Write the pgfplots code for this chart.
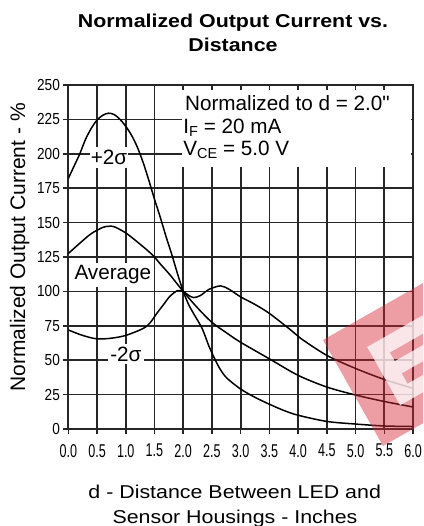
\documentclass[border=0pt]{standalone}
\usepackage{fontspec}
\setmainfont{Liberation Sans}
\newfontfamily\plainsans{Liberation Sans}[Ligatures=TeXOff]
\usepackage{pgfplots}
\pgfplotsset{compat=1.18}
\definecolor{wm}{RGB}{215,40,55}
\begin{document}
\begin{tikzpicture}[x=1pt,y=1pt]
\useasboundingbox (0pt,0pt) rectangle (423pt,526pt);
\begin{axis}[
  at={(68.3pt,97pt)}, anchor=south west,
  scale only axis, width=344.7pt, height=344pt,
  xmin=0, xmax=6, ymin=0, ymax=250,
  xtick={0,0.5,1,1.5,2,2.5,3,3.5,4,4.5,5,5.5,6},
  xticklabels={0.0,0.5,1.0,1.5,2.0,2.5,3.0,3.5,4.0,4.5,5.0,5.5,6.0},
  ytick={0,25,50,75,100,125,150,175,200,225,250},
  yticklabels={0,25,50,75,100,125,150,175,200,225,250},
  grid=major,
  grid style={line width=1.7pt, black!85},
  axis line style={line width=1.7pt, black!85},
  tick style={line width=1.5pt, black!85},
  major tick length=5pt,
  tick align=outside, tick pos=left,
  xticklabel style={font=\fontsize{18.5}{18.5}\selectfont, xscale=0.68, inner sep=0pt},
  yticklabel style={font=\fontsize{16}{16}\selectfont, xscale=0.85, inner sep=0pt},
  xticklabel shift=10pt, yticklabel shift=3.3pt,
]
% +2 sigma
\addplot[black, line width=1.5pt, smooth] coordinates {
(0,182) (0.1,191) (0.2,200) (0.3,210.5) (0.4,218.5) (0.5,224.5) (0.6,228) (0.7,229.5)
(0.8,228.5) (0.9,225) (1.0,220) (1.1,213.5) (1.2,205) (1.3,194) (1.4,181) (1.5,167)
(1.6,154) (1.7,140) (1.8,127) (1.9,113) (2.0,100) (2.1,90) (2.2,82.5) (2.33,73)
(2.45,60) (2.56,50) (2.65,43) (2.76,37) (3.0,29) (3.25,23) (3.5,18) (3.75,13.5)
(4.0,10) (4.5,5.5) (5.0,3.6) (5.5,2.2) (6.0,1.8)};
% average
\addplot[black, line width=1.5pt, smooth] coordinates {
(0,127.5) (0.2,135) (0.4,142) (0.6,146.5) (0.7,147.3) (0.8,147) (1.0,142.5) (1.2,136)
(1.4,129) (1.5,125) (1.6,120) (1.77,112) (2.0,100) (2.25,88) (2.5,77.5) (2.75,70)
(3.0,63) (3.5,51) (4.0,39) (4.5,30.5) (5.0,24.7) (5.5,20) (6.0,16)};
% -2 sigma
\addplot[black, line width=1.5pt, smooth] coordinates {
(0,72) (0.25,68) (0.5,65.5) (0.75,66) (1.0,68) (1.3,73) (1.42,77) (1.54,84) (1.65,90)
(1.77,96.5) (1.9,100.5) (2.0,100) (2.08,97.5) (2.18,95.5) (2.3,97) (2.45,101.5)
(2.65,104) (2.8,101.5) (3.0,96) (3.25,90.5) (3.5,84) (3.87,72) (4.04,66) (4.5,53.5)
(5.0,44) (5.5,36) (6.0,29.6)};
% label boxes
\fill[white] (axis cs:1.98,190.6) rectangle (axis cs:5.96,246.4);
\node[anchor=base west, inner sep=0pt, font=\plainsans\fontsize{20.7}{20.7}\selectfont] at (axis cs:2.03,231.3) {Normalized to d = 2.0"};
\node[anchor=base west, inner sep=0pt, font=\fontsize{20.7}{20.7}\selectfont] at (axis cs:2.0,214.9) {I\raisebox{-3pt}{\fontsize{14.5}{14.5}\selectfont F} = 20 mA};
\node[anchor=base west, inner sep=0pt, font=\fontsize{20.7}{20.7}\selectfont] at (axis cs:2.0,199.1) {V\raisebox{-3pt}{\fontsize{14.5}{14.5}\selectfont CE} = 5.0 V};
\node[anchor=base, fill=white, inner xsep=1pt, inner ysep=3pt, font=\fontsize{20.7}{20.7}\selectfont] at (axis cs:0.708,191.9) {+2σ};
\node[anchor=base west, fill=white, inner xsep=2pt, inner ysep=3pt, font=\fontsize{20.7}{20.7}\selectfont] at (axis cs:0.07,108.3) {Average};
\node[anchor=base, fill=white, inner xsep=2pt, inner ysep=3pt, font=\fontsize{20.7}{20.7}\selectfont] at (axis cs:1.003,49.4) {-2σ};
\end{axis}
% titles
\node[anchor=base, inner sep=0pt, xscale=1.15, font=\fontsize{18.6}{18.6}\selectfont\bfseries] at (233pt,498.3pt) {Normalized Output Current vs.};
\node[anchor=base, inner sep=0pt, xscale=1.15, font=\fontsize{18.6}{18.6}\selectfont\bfseries] at (233pt,474pt) {Distance};
\node[anchor=base, inner sep=0pt, xscale=1.15, font=\fontsize{18.6}{18.6}\selectfont] at (234.7pt,27.7pt) {d - Distance Between LED and};
\node[anchor=base, inner sep=0pt, xscale=1.15, font=\fontsize{18.6}{18.6}\selectfont] at (235pt,2.7pt) {Sensor Housings - Inches};
\node[anchor=base, inner sep=0pt, rotate=90, font=\fontsize{21}{21}\selectfont] at (25pt,278.6pt) {Normalized Output Current - \%};
% watermark
\begin{scope}
\clip (0pt,0pt) rectangle (423pt,526pt);
\begin{scope}[cm={0.869,0.495,0.492,-0.869,(323pt,186pt)}]
\fill[wm, fill opacity=0.45] (0,0) rectangle (122,122);
\fill[white, fill opacity=0.75] (35,28) rectangle (52,95);
\fill[white, fill opacity=0.75] (52,28) rectangle (100,44);
\fill[white, fill opacity=0.75] (52,54) rectangle (92,68);
\fill[white, fill opacity=0.75] (52,80) rectangle (100,95);
\end{scope}
\end{scope}
\end{tikzpicture}
\end{document}
